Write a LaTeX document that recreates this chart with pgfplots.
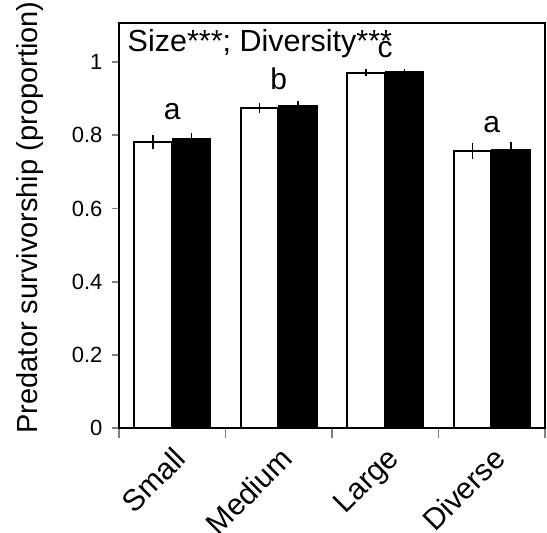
\documentclass[border=0pt]{standalone}
\usepackage{fontspec}
\setmainfont{Liberation Sans}
\usepackage{pgfplots}
\pgfplotsset{compat=1.18}
\begin{document}
\begin{tikzpicture}
\begin{axis}[
  width=426pt, height=405pt, scale only axis,
  xmin=-0.5, xmax=3.5, ymin=0, ymax=1.107,
  axis line style={line width=1.8pt},
  xtick={0,1,2,3},
  xticklabels={Small,Medium,Large,Diverse},
  minor xtick={-0.5,0.5,1.5,2.5,3.5},
  major x tick style={draw=none},
  minor x tick style={line width=1.8pt},
  minor tick length=10pt,
  ytick={0,0.2,0.4,0.6,0.8,1},
  yticklabels={0,0.2,0.4,0.6,0.8,1},
  y tick style={line width=1.8pt},
  major tick length=7pt,
  tick align=outside,
  xtick pos=bottom, ytick pos=left,
  /pgf/number format/assume math mode=true,
  yticklabel style={font=\fontsize{22}{26}\selectfont, xshift=-6pt},
  xticklabel style={font=\fontsize{30}{36}\selectfont, rotate=45, anchor=north east, xshift=-4pt, yshift=-4pt},
  ylabel={Predator survivorship (proportion)},
  ylabel style={font=\fontsize{29}{34}\selectfont, at={(rel axis cs:-0.209,0.52)}, anchor=center},
  ybar, bar width=0.35,
  error bars/error bar style={line width=1.8pt},
  error bars/error mark=none,
]
\addplot[fill=white, draw=black, line width=2pt, bar shift=-0.18,
  error bars/.cd, y dir=both, y explicit]
  coordinates {(0,0.782) +- (0,0.020) (1,0.875) +- (0,0.014) (2,0.971) +- (0,0.009) (3,0.757) +- (0,0.021)};
\addplot[fill=black, draw=black, line width=2pt, bar shift=0.18,
  error bars/.cd, y dir=both, y explicit]
  coordinates {(0,0.789) +- (0,0.016) (1,0.880) +- (0,0.013) (2,0.974) +- (0,0.007) (3,0.761) +- (0,0.021)};
\node[font=\fontsize{30.5}{36}\selectfont, anchor=north west, inner sep=0pt] at (rel axis cs:0.02,0.985) {Size***; Diversity***};
\node[font=\fontsize{30}{36}\selectfont] at (axis cs:0,0.865) {a};
\node[font=\fontsize{30}{36}\selectfont] at (axis cs:1,0.955) {b};
\node[font=\fontsize{30}{36}\selectfont] at (axis cs:2,1.035) {c};
\node[font=\fontsize{30}{36}\selectfont] at (axis cs:3,0.83) {a};
\end{axis}
\pgfresetboundingbox
\path (current axis.south west) ++(-119pt,-105pt) rectangle ++(547pt,533pt);
\end{tikzpicture}
\end{document}
